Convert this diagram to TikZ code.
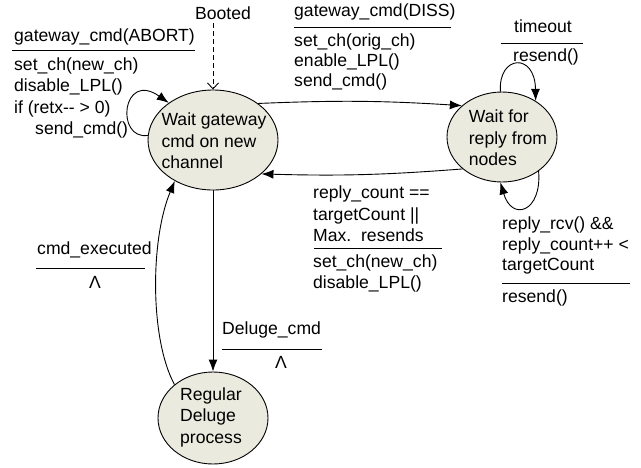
\documentclass[tikz,border=0pt]{standalone}
\usepackage{fontspec}
\setmainfont{Liberation Sans}
\usetikzlibrary{arrows.meta,shapes.geometric}
\begin{document}
\begin{tikzpicture}[x=1pt,y=-1pt,
  font=\fontsize{17.6}{21}\selectfont,
  state/.style={ellipse,draw,line width=0.9pt,fill=stfill,inner sep=0pt},
  stext/.style={align=left,inner sep=0pt,font=\fontsize{17.6}{21.5}\selectfont},
  lbl/.style={align=left,inner sep=0pt,anchor=west},
  rule/.style={line width=0.9pt},
  arr/.style={line width=0.9pt,-{Latex[length=12pt,width=9pt]}},
]
\definecolor{stfill}{HTML}{EBEADF}
\useasboundingbox (0,0) rectangle (641,467);

% states
\node[state,minimum width=130pt,minimum height=100pt] (A) at (213,140) {};
\node[stext] (At) at (214,141) {Wait gateway\\cmd on new\\channel};
\node[state,minimum width=110pt,minimum height=90pt] (B) at (502,137) {};
\node[stext] (Bt) at (508,138) {Wait for\\reply from\\nodes};
\node[state,minimum width=110pt,minimum height=92pt] (C) at (213,418) {};
\node[stext] (Ct) at (211,417) {Regular\\Deluge\\process};

% Booted
\node[inner sep=0pt] (boot) at (223,13) {Booted};
\coordinate (bt) at (213,23);
\draw[line width=0.9pt,dash pattern=on 5pt off 3pt,-{Straight Barb[length=6pt,width=11pt]}] (bt) -- (A.north);

% ABORT self loop
\draw[arr] (A.176) .. controls (115,140) and (122,70) .. (A.140);
\node[lbl] (abc) at (14,37) {gateway\_cmd(ABORT)};
\draw[rule] (12,50) -- (195,50);
\node[lbl,font=\fontsize{17.6}{21.5}\selectfont] (aba) at (14,98) {set\_ch(new\_ch)\\disable\_LPL()\\if (retx-{}- > 0)\\\hspace*{21pt}send\_cmd()};

% A -> B
\draw[arr] (A.39) to[bend left=3] (B.142);
\node[lbl] (dic) at (294,12) {gateway\_cmd(DISS)};
\draw[rule] (294,27) -- (451,27);
\node[lbl,font=\fontsize{17.6}{20}\selectfont] (dia) at (294,62) {set\_ch(orig\_ch)\\enable\_LPL()\\send\_cmd()};

% B -> A
\draw[arr] (B.219) to[bend left=3] (A.325);
\node[lbl,font=\fontsize{17.6}{21.5}\selectfont] (rcc) at (313,214) {reply\_count ==\\targetCount ||\\Max.\ \ resends};
\draw[rule] (314,248) -- (442,248);
\node[lbl,font=\fontsize{17.6}{21}\selectfont] (rca) at (313,273.5) {set\_ch(new\_ch)\\disable\_LPL()};

% B top loop
\draw[arr] (B.92) .. controls (498,55) and (535,52) .. (B.47);
\node[inner sep=0pt] (toc) at (543,26) {timeout};
\draw[rule] (501,43) -- (583,43);
\node[inner sep=0pt] (toa) at (546,57) {resend()};

% B bottom loop
\draw[arr] (B.317) .. controls (542,212) and (512,222) .. (B.268);
\node[lbl,font=\fontsize{17.6}{20.5}\selectfont] (rrc) at (502,245.5) {reply\_rcv() \&\&\\reply\_count++ <\\targetCount};
\draw[rule] (502,283) -- (630,283);
\node[lbl] (rra) at (502,298) {resend()};

% A -> C
\draw[arr] (A.south) -- (C.north);
\node[lbl] (dgc) at (222,330) {Deluge\_cmd};
\draw[rule] (222,349) -- (322,349);
\node[inner sep=0pt] (dga) at (281,362) {Λ};

% C -> A
\draw[arr] (C.139) .. controls (150,340) and (150,240) .. (A.227);
\node[lbl] (cec) at (37,250) {cmd\_executed};
\draw[rule] (36,268) -- (145,268);
\node[inner sep=0pt] (cea) at (95,282) {Λ};
\end{tikzpicture}
\end{document}
